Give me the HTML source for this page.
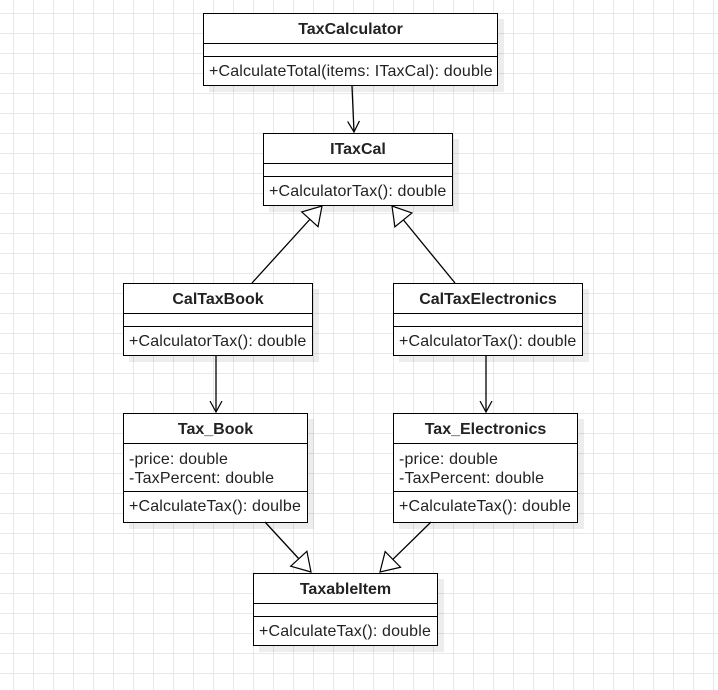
<!DOCTYPE html>
<html><head><style>
body{margin:0;width:718px;height:690px;overflow:hidden;background:#fff;
background-image:linear-gradient(#e8e8e8 1px,transparent 1px),linear-gradient(90deg,#e8e8e8 1px,transparent 1px);
background-size:20px 20px;background-position:13px 13px;font-family:"Liberation Sans",Arial,sans-serif;}
.b{position:absolute;border:1px solid #000;background:#fff;box-sizing:border-box;box-shadow:6px 6px 0 rgba(0,0,0,0.07);font-size:16px;letter-spacing:0.15px;color:#222}
.h{height:29px;line-height:31px;text-align:center;font-weight:bold;border-bottom:1px solid #000;letter-spacing:0}
.e{height:12px;border-bottom:1px solid #000}
.m{padding-left:5px;line-height:29px;white-space:nowrap}
.a{border-bottom:1px solid #000;padding:6px 0 3px 5px;line-height:19px}
svg{position:absolute;left:0;top:0}
</style></head><body>
<div class="b" style="left:203px;top:13px;width:295px;height:73px"><div class="h">TaxCalculator</div><div class="e"></div><div class="m">+CalculateTotal(items: ITaxCal): double</div></div>
<div class="b" style="left:263px;top:133px;width:190px;height:73px"><div class="h">ITaxCal</div><div class="e"></div><div class="m">+CalculatorTax(): double</div></div>
<div class="b" style="left:123px;top:283px;width:190px;height:73px"><div class="h">CalTaxBook</div><div class="e"></div><div class="m">+CalculatorTax(): double</div></div>
<div class="b" style="left:393px;top:283px;width:190px;height:73px"><div class="h">CalTaxElectronics</div><div class="e"></div><div class="m">+CalculatorTax(): double</div></div>
<div class="b" style="left:123px;top:413px;width:185px;height:110px"><div class="h">Tax_Book</div><div class="a">-price: double<br>-TaxPercent: double</div><div class="m">+CalculateTax(): doulbe</div></div>
<div class="b" style="left:393px;top:413px;width:185px;height:110px"><div class="h">Tax_Electronics</div><div class="a">-price: double<br>-TaxPercent: double</div><div class="m">+CalculateTax(): double</div></div>
<div class="b" style="left:253px;top:573px;width:185px;height:73px"><div class="h">TaxableItem</div><div class="e"></div><div class="m">+CalculateTax(): double</div></div>
<svg width="718" height="690">
<defs>
<marker id="o" markerWidth="12" markerHeight="14" refX="11" refY="7" orient="auto" markerUnits="userSpaceOnUse"><path d="M0,1 L11,7 L0,13" fill="none" stroke="#000" stroke-width="1.2"/></marker>
<marker id="t" markerWidth="22" markerHeight="26" refX="19" refY="13" orient="auto" markerUnits="userSpaceOnUse"><path d="M1,2 L19,13 L1,24 Z" fill="#fff" stroke="#000" stroke-width="1.2"/></marker>
</defs>
<g stroke="#000" stroke-width="1.3" fill="none">
<line x1="352" y1="86" x2="354" y2="132" marker-end="url(#o)"/>
<line x1="216" y1="356" x2="216" y2="412" marker-end="url(#o)"/>
<line x1="486" y1="356" x2="486" y2="412" marker-end="url(#o)"/>
<line x1="252" y1="283" x2="322" y2="206" marker-end="url(#t)"/>
<line x1="455" y1="283" x2="392" y2="206" marker-end="url(#t)"/>
<line x1="265" y1="522" x2="311" y2="572" marker-end="url(#t)"/>
<line x1="431" y1="522" x2="380" y2="572" marker-end="url(#t)"/>
</g></svg>
</body></html>
